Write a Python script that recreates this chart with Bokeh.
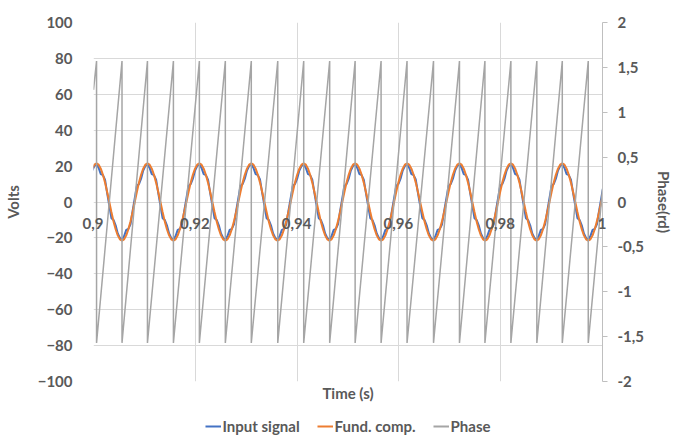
import math
from bokeh.plotting import figure
from bokeh.layouts import column
from bokeh.core.properties import value
from bokeh.models import (Range1d, LinearAxis, FixedTicker, Legend, LegendItem, Title,
                          ColumnDataSource)
from bokeh.embed import file_html
from bokeh.resources import INLINE

# ---------------- data ----------------
x_ticks = [0.9, 0.92, 0.94, 0.96, 0.98, 1.0]
x_tick_labels = ["0,9", "0,92", "0,94", "0,96", "0,98", "1"]
volts_ticks = [-100, -80, -60, -40, -20, 0, 20, 40, 60, 80, 100]
phase_ticks = [-2, -1.5, -1, -0.5, 0, 0.5, 1, 1.5, 2]
phase_tick_labels = ["-2", "-1,5", "-1", "-0,5", "0", "0,5", "1", "1,5", "2"]

# instants where the phase reaches +pi/2 and wraps to -pi/2 (s)
phase_wrap_t = [0.9006, 0.9056, 0.9106, 0.9157, 0.9208, 0.9259, 0.9310, 0.9362,
                0.9413, 0.9464, 0.9514, 0.9565, 0.9616, 0.9668, 0.9719, 0.9769,
                0.9820, 0.9871, 0.9921, 0.9972]
phase_top = 1.57
phase_bottom = -1.57
phase_at_start = 1.25   # phase at t = 0.9 s
phase_at_end = 0.14     # phase at t = 1.0 s

# times of the signal peaks (s), one per cycle
peak_t = [0.8904, 0.9006, 0.9106, 0.9208, 0.9310, 0.9413, 0.9514, 0.9616,
          0.9719, 0.9820, 0.9921, 1.0023]
# one cycle, 24 samples from a peak to the next peak (V)
input_cycle = [21, 19, 15.5, 15, 12.5, 5, -2, -9, -10, -13, -17.5, -20,
               -21, -19, -15.5, -15, -12.5, -5, 2, 9, 10, 13, 17.5, 20]
fund_cycle = [21.5, 20.8, 18.6, 15.2, 10.8, 5.6, 0, -5.6, -10.8, -15.2, -18.6, -20.8,
              -21.5, -20.8, -18.6, -15.2, -10.8, -5.6, 0, 5.6, 10.8, 15.2, 18.6, 20.8]

# ---------------- build series ----------------
sig_t, sig_in, sig_f = [], [], []
n = len(input_cycle)
for a, b in zip(peak_t[:-1], peak_t[1:]):
    for k in range(n):
        sig_t.append(a + (b - a) * k / n)
        sig_in.append(input_cycle[k])
        sig_f.append(fund_cycle[k])
sig_t.append(peak_t[-1]); sig_in.append(input_cycle[0]); sig_f.append(fund_cycle[0])

ph_t = [0.9]
ph_v = [phase_at_start]
for t in phase_wrap_t:
    ph_t += [t, t]
    ph_v += [phase_top, phase_bottom]
ph_t.append(1.0)
ph_v.append(phase_at_end)

# ---------------- styles ----------------
FONT = "Lato"
TXT = "#595959"
GRID = "#D9D9D9"
FS = "15px"
C_IN, C_F, C_PH = "#4472C4", "#ED7D31", "#A5A5A5"

# ---------------- main figure ----------------
p = figure(width=676, height=410, x_range=Range1d(0.9, 1.0), y_range=Range1d(-100, 100),
           output_backend="svg", toolbar_location=None,
           min_border_left=89, min_border_right=70, min_border_top=22, min_border_bottom=29)
p.outline_line_color = None
p.extra_y_ranges = {"phase": Range1d(-2, 2)}

p.xgrid.ticker = FixedTicker(ticks=x_ticks)
p.ygrid.ticker = FixedTicker(ticks=volts_ticks)
p.xgrid.grid_line_color = GRID
p.ygrid.grid_line_color = GRID

# left axis
ya = p.yaxis[0]
ya.ticker = FixedTicker(ticks=volts_ticks)
ya.axis_line_color = None
ya.major_tick_line_color = None
ya.minor_tick_line_color = None
ya.major_label_standoff = 15
ya.axis_label = "Volts"
ya.axis_label_standoff = 13

# x axis crossing at 0 V
xa = p.xaxis[0]
xa.fixed_location = 0
xa.ticker = FixedTicker(ticks=x_ticks)
xa.major_label_overrides = dict(zip(x_ticks, x_tick_labels))
xa.axis_line_color = None
xa.major_tick_line_color = None
xa.minor_tick_line_color = None
xa.major_label_standoff = 9

# right axis
ra = LinearAxis(y_range_name="phase", ticker=FixedTicker(ticks=phase_ticks))
ra.major_label_overrides = dict(zip(phase_ticks, phase_tick_labels))
ra.axis_line_color = "#BFBFBF"
ra.major_tick_line_color = "#BFBFBF"
ra.major_tick_in = 0
ra.major_tick_out = 5
ra.minor_tick_line_color = None
ra.major_label_standoff = 10
ra.axis_label = "Phase(rd)"
ra.axis_label_standoff = 8
p.add_layout(ra, "right")

for ax in (xa, ya, ra):
    ax.major_label_text_font = FONT
    ax.major_label_text_font_style = "bold"
    ax.major_label_text_color = TXT
    ax.major_label_text_font_size = FS
    ax.axis_label_text_font = FONT
    ax.axis_label_text_font_style = "bold"
    ax.axis_label_text_color = TXT
    ax.axis_label_text_font_size = FS

# x tick labels as HTML labels on the zero line (not clipped at the frame edges)
try:
    from bokeh.models import HTMLLabelSet
    src = ColumnDataSource(dict(x=x_ticks, y=[0] * len(x_ticks), text=x_tick_labels))
    hl = HTMLLabelSet(x="x", y="y", text="text", source=src, text_align="center",
                      text_baseline="middle", y_offset=-21, text_font=value(FONT),
                      text_font_style="bold", text_font_size=value(FS),
                      text_color=TXT)
    p.add_layout(hl)
    xa.major_label_text_alpha = 0
    xa.major_label_text_font_size = "1px"
except Exception:
    pass

p.add_layout(Title(text="Time (s)", align="center", text_font=FONT, text_font_style="bold",
                   text_font_size=FS, text_color=TXT, standoff=0, offset=0), "below")

# series
r_in = p.line(sig_t, sig_in, line_color=C_IN, line_width=2)
r_f = p.line(sig_t, sig_f, line_color=C_F, line_width=2)
r_ph = p.line(ph_t, ph_v, line_color=C_PH, line_width=1.5, y_range_name="phase")

# ---------------- legend strip ----------------
q = figure(width=676, height=32, x_range=Range1d(0, 1), y_range=Range1d(0, 1),
           output_backend="svg", toolbar_location=None,
           min_border_left=24, min_border_right=0, min_border_top=0, min_border_bottom=0)
q.axis.visible = False
q.grid.visible = False
q.outline_line_color = None
l_in = q.line([-2, -1], [-2, -1], line_color=C_IN, line_width=2)
l_f = q.line([-2, -1], [-2, -1], line_color=C_F, line_width=2)
l_ph = q.line([-2, -1], [-2, -1], line_color=C_PH, line_width=2)
legend = Legend(items=[LegendItem(label="Input signal", renderers=[l_in]),
                       LegendItem(label="Fund. comp.", renderers=[l_f]),
                       LegendItem(label="Phase", renderers=[l_ph])],
                orientation="horizontal", location="center", glyph_width=16,
                glyph_height=14, label_standoff=2, spacing=17, padding=0, margin=0,
                border_line_color=None, background_fill_alpha=0,
                label_text_font=FONT, label_text_font_style="bold",
                label_text_font_size=FS, label_text_color=TXT)
q.add_layout(legend)

open("out.html", "w").write(file_html(column(p, q, spacing=0), INLINE))
